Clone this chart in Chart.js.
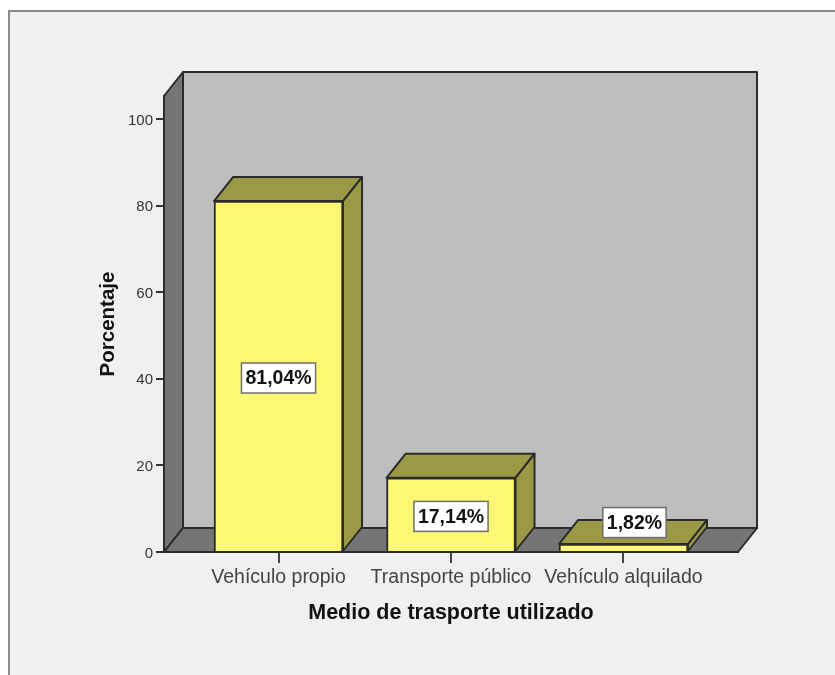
<!DOCTYPE html>
<html lang="es">
<head>
<meta charset="utf-8">
<title>Medio de trasporte utilizado</title>
<script src="https://cdn.jsdelivr.net/npm/chart.js@4"></script>
<style>
  html, body { margin: 0; padding: 0; background: #ffffff; overflow: hidden; }
  canvas { display: block; filter: blur(0.35px); }
</style>
</head>
<body>
<canvas id="chart" width="835" height="675"></canvas>
<script>
/* --------------- Data --------------------- */
const categories = ["Vehículo propio", "Transporte público", "Vehículo alquilado"];
const percentages = [81.04, 17.14, 1.82];
const valueLabels = ["81,04%", "17,14%", "1,82%"];
const yTicks = [0, 20, 40, 60, 80, 100];
const xPositions = [1, 2, 3];

/* --------------- Colors --------------------- */
const frameBg = "#f0f0f0";
const frameLine = "#8c8c8c";
const wallBack = "#bebebe";
const wallDark = "#757575";
const barFront = "#fdf773";
const barDepth = "#9b9846";
const lineDark = "#2b2b2b";

/* 3D offset of the box */
const depthX = 19;
const depthY = 24;

const fillShape = (ctx, points, fill) => {
  ctx.beginPath();
  points.forEach((p, i) => (i ? ctx.lineTo(p[0], p[1]) : ctx.moveTo(p[0], p[1])));
  ctx.closePath();
  ctx.fillStyle = fill;
  ctx.fill();
  ctx.stroke();
};

/* --------------- Frame and walls, under the axes --------------------- */
const wallsPlugin = {
  id: "walls",
  beforeDraw(chart) {
    const { ctx, chartArea: a } = chart;
    ctx.save();
    ctx.fillStyle = "#ffffff";
    ctx.fillRect(0, 0, chart.width, chart.height);
    ctx.fillStyle = frameBg;
    ctx.fillRect(9, 11, chart.width, chart.height);
    ctx.strokeStyle = frameLine;
    ctx.lineWidth = 2;
    ctx.beginPath();
    ctx.moveTo(9, chart.height);
    ctx.lineTo(9, 11);
    ctx.lineTo(chart.width, 11);
    ctx.stroke();

    ctx.strokeStyle = lineDark;
    ctx.lineJoin = "round";
    const backL = a.left + depthX, backR = a.right + depthX;
    const backT = a.top - depthY, backB = a.bottom - depthY;
    fillShape(ctx, [[backL, backT], [backR, backT], [backR, backB], [backL, backB]], wallBack);
    fillShape(ctx, [[a.left, a.top], [backL, backT], [backL, backB], [a.left, a.bottom]], wallDark);
    fillShape(ctx, [[a.left, a.bottom], [backL, backB], [backR, backB], [a.right, a.bottom]], wallDark);
    ctx.restore();
  },
  /* --------------- Top and side of each bar --------------------- */
  beforeDatasetsDraw(chart) {
    const { ctx } = chart;
    ctx.save();
    ctx.strokeStyle = lineDark;
    ctx.lineWidth = 2;
    ctx.lineJoin = "round";
    chart.getDatasetMeta(0).data.forEach((bar) => {
      const half = bar.width / 2;
      const l = bar.x - half, r = bar.x + half, t = bar.y, b = bar.base;
      fillShape(ctx, [[l, t], [l + depthX, t - depthY], [r + depthX, t - depthY], [r, t]], barDepth);
      fillShape(ctx, [[r, t], [r + depthX, t - depthY], [r + depthX, b - depthY], [r, b]], barDepth);
    });
    ctx.restore();
  },
  /* --------------- White value boxes --------------------- */
  afterDatasetsDraw(chart) {
    const { ctx } = chart;
    ctx.save();
    ctx.font = "bold 19.5px 'Liberation Sans'";
    ctx.textAlign = "center";
    ctx.textBaseline = "middle";
    chart.getDatasetMeta(0).data.forEach((bar, i) => {
      let cx = bar.x;
      let cy = (bar.y + bar.base) / 2 + 2;
      // box does not fit in a flat bar, it sits up on the top face
      if (bar.base - bar.y < 20) {
        cx += 11;
        cy -= 27;
      }
      const w = ctx.measureText(valueLabels[i]).width + 8;
      const h = 30;
      ctx.fillStyle = "#ffffff";
      ctx.strokeStyle = "#6e6e6e";
      ctx.lineWidth = 1.5;
      ctx.fillRect(cx - w / 2, cy - h / 2, w, h);
      ctx.strokeRect(cx - w / 2, cy - h / 2, w, h);
      ctx.fillStyle = "#111111";
      ctx.fillText(valueLabels[i], cx, cy + 1);
    });
    ctx.restore();
  },
};

/* --------------- Chart --------------------- */
new Chart(document.getElementById("chart"), {
  type: "bar",
  plugins: [wallsPlugin],
  data: {
    datasets: [
      {
        data: percentages.map((v, i) => ({ x: xPositions[i], y: v })),
        backgroundColor: barFront,
        borderColor: lineDark,
        borderWidth: 2,
        barThickness: 129,
      },
    ],
  },
  options: {
    responsive: false,
    animation: false,
    layout: { padding: { top: 96, right: 97, left: 0, bottom: 0 } },
    plugins: { legend: { display: false }, tooltip: { enabled: false } },
    scales: {
      x: {
        type: "linear",
        offset: false,
        min: 0.336,
        max: 3.664,
        afterBuildTicks: (scale) => {
          scale.ticks = xPositions.map((v) => ({ value: v }));
        },
        afterFit: (scale) => {
          scale.height = 123;
        },
        grid: { offset: false, drawOnChartArea: false, color: "#444444", lineWidth: 2, tickLength: 11 },
        border: { color: lineDark, width: 2 },
        ticks: {
          autoSkip: false,
          maxRotation: 0,
          padding: 3,
          color: "#444444",
          font: { family: "'Liberation Sans'", size: 19.5 },
          callback: (v) => categories[v - 1],
        },
        title: {
          display: true,
          text: "Medio de trasporte utilizado",
          color: "#111111",
          font: { family: "'Liberation Sans'", size: 21.5, weight: "bold" },
          padding: { top: 0, bottom: 49 },
        },
      },
      y: {
        min: 0,
        max: 105.3,
        afterBuildTicks: (scale) => {
          scale.ticks = yTicks.map((v) => ({ value: v }));
        },
        afterFit: (scale) => {
          scale.width = 164;
        },
        grid: { drawOnChartArea: false, color: "#333333", lineWidth: 2, tickLength: 8 },
        border: { color: lineDark, width: 2 },
        ticks: {
          padding: 3,
          labelOffset: 1.5,
          color: "#333333",
          font: { family: "'Liberation Sans'", size: 15 },
        },
        title: {
          display: true,
          text: "Porcentaje",
          color: "#111111",
          font: { family: "'Liberation Sans'", size: 20.5, weight: "bold" },
          padding: { top: 96, bottom: 0 },
        },
      },
    },
  },
});
</script>
</body>
</html>
